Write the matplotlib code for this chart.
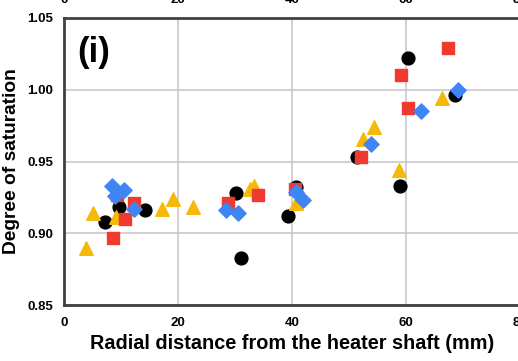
import matplotlib

matplotlib.use("Agg")
import matplotlib.pyplot as plt
import matplotlib.transforms as mtransforms

plt.rcParams["font.family"] = ["Liberation Sans", "DejaVu Sans"]

# Données : distance radiale (mm) et degré de saturation
black_x = [7.2, 9.6, 14.2, 30.2, 31.1, 39.3, 40.7, 51.4, 58.9, 60.4, 68.6]
black_y = [0.908, 0.918, 0.916, 0.928, 0.883, 0.912, 0.932, 0.953, 0.933, 1.022, 0.996]

red_x = [8.6, 9.3, 10.7, 12.3, 28.8, 34.0, 40.5, 52.1, 59.1, 60.4, 67.4]
red_y = [0.897, 0.927, 0.910, 0.921, 0.921, 0.927, 0.931, 0.953, 1.010, 0.987, 1.029]

yellow_x = [3.9, 5.1, 9.1, 17.2, 19.1, 22.6, 32.6, 33.3, 40.7, 52.5, 54.4, 58.8, 66.3]
yellow_y = [0.890, 0.914, 0.911, 0.917, 0.924, 0.918, 0.931, 0.933, 0.921, 0.966, 0.974, 0.944, 0.994]

blue_x = [8.4, 10.5, 8.9, 12.3, 28.4, 30.5, 40.7, 41.9, 53.9, 62.6, 69.1]
blue_y = [0.933, 0.930, 0.926, 0.917, 0.916, 0.914, 0.929, 0.923, 0.962, 0.985, 1.000]

x_ticks = [0, 20, 40, 60, 80]
y_ticks = [0.85, 0.90, 0.95, 1.00, 1.05]

fig = plt.figure(figsize=(5.18, 3.61), dpi=100)
ax = fig.add_axes([64 / 518, 56 / 361, 456 / 518, 287 / 361])

ax.scatter(black_x, black_y, s=85, marker="o", color="black", zorder=3)
ax.scatter(yellow_x, yellow_y, s=95, marker="^", color="#f6b90a", zorder=4)
ax.scatter(red_x, red_y, s=85, marker="s", color="#f03a2f", zorder=5)
ax.scatter(blue_x, blue_y, s=60, marker="D", color="#3f86f4", zorder=6)

ax.set_xlim(0, 80)
ax.set_ylim(0.85, 1.05)
ax.set_xticks(x_ticks)
ax.set_yticks(y_ticks)
ax.set_yticklabels([f"{v:.2f}" for v in y_ticks])
ax.tick_params(length=0, labelsize=9.5)
ax.tick_params(axis="x", pad=9)
ax.tick_params(axis="y", pad=8)
for lab in ax.get_xticklabels() + ax.get_yticklabels():
    lab.set_fontweight("bold")
ax.grid(True, color="#c8c8c8", lw=1.2)
ax.set_axisbelow(True)
for side in ["left", "bottom", "top"]:
    ax.spines[side].set_color("#404040")
    ax.spines[side].set_linewidth(2)
ax.spines["right"].set_visible(False)

ax.set_xlabel("Radial distance from the heater shaft (mm)", fontsize=14.3,
              fontweight="bold", labelpad=3)
ax.set_ylabel("Degree of saturation", fontsize=13.8, fontweight="bold", labelpad=5)
ax.text(0.03, 0.88, "(i)", transform=ax.transAxes, fontsize=25,
        fontweight="bold", va="center", ha="left")

# étiquettes coupées du panneau du dessus
trans = mtransforms.blended_transform_factory(ax.transData, fig.transFigure)
for t in x_ticks:
    ax.text(t, 1 - 3 / 361, str(t), transform=trans, ha="center",
            va="baseline", fontsize=9.5, fontweight="bold", clip_on=False)

fig.savefig("out.png", dpi=100)
